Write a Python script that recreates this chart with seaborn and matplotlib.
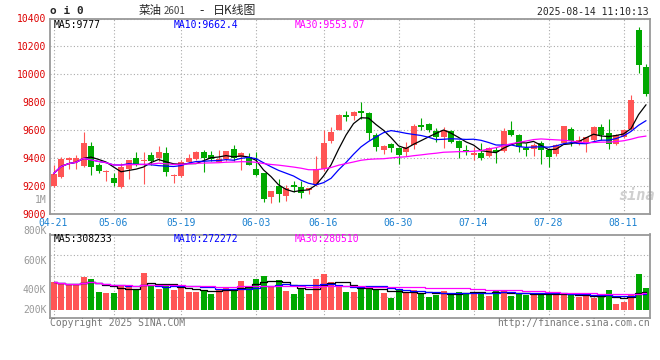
import numpy as np
import pandas as pd
import matplotlib
matplotlib.use('Agg')
import matplotlib.pyplot as plt
import seaborn as sns

# daily candles 04-21 .. 08-14 (80 trading days)
opens = [9195, 9262, 9383, 9369, 9340, 9488, 9350, 9300, 9252, 9188,
         9317, 9395, 9376, 9417, 9395, 9431, 9270, 9267, 9367, 9390,
         9445, 9417, 9371, 9393, 9464, 9405, 9409, 9321, 9288, 9119,
         9195, 9126, 9202, 9188, 9167, 9202, 9321, 9524, 9602, 9709,
         9697, 9738, 9724, 9567, 9455, 9502, 9471, 9440, 9495, 9638,
         9645, 9593, 9552, 9593, 9517, 9457, 9421, 9436, 9412, 9459,
         9448, 9602, 9567, 9471, 9462, 9505, 9459, 9426, 9507, 9609,
         9498, 9512, 9526, 9624, 9581, 9498, 9550, 9605, 10316, 10052]
highs = [9350, 9405, 9405, 9417, 9583, 9512, 9364, 9310, 9293, 9364,
         9386, 9445, 9445, 9438, 9488, 9474, 9281, 9383, 9426, 9450,
         9455, 9452, 9455, 9452, 9490, 9445, 9431, 9440, 9293, 9164,
         9250, 9202, 9231, 9231, 9186, 9414, 9597, 9619, 9717, 9736,
         9738, 9797, 9726, 9581, 9493, 9507, 9481, 9512, 9640, 9688,
         9650, 9617, 9624, 9602, 9531, 9490, 9474, 9507, 9478, 9476,
         9612, 9667, 9574, 9505, 9507, 9517, 9469, 9498, 9631, 9619,
         9559, 9552, 9626, 9645, 9681, 9571, 9609, 9852, 10338, 10076]
lows = [9188, 9255, 9317, 9317, 9336, 9276, 9293, 9232, 9198, 9181,
        9245, 9340, 9210, 9350, 9376, 9267, 9219, 9262, 9362, 9386,
        9298, 9376, 9369, 9376, 9376, 9312, 9345, 9269, 9086, 9076,
        9079, 9093, 9155, 9112, 9138, 9198, 9305, 9507, 9600, 9662,
        9674, 9678, 9531, 9448, 9424, 9440, 9355, 9412, 9460, 9602,
        9583, 9512, 9467, 9505, 9402, 9421, 9386, 9383, 9405, 9362,
        9443, 9557, 9440, 9412, 9414, 9355, 9333, 9412, 9502, 9486,
        9493, 9438, 9521, 9526, 9462, 9493, 9545, 9600, 10012, 9847]
closes = [9286, 9388, 9400, 9395, 9509, 9333, 9305, 9305, 9219, 9336,
          9381, 9350, 9383, 9379, 9445, 9298, 9279, 9367, 9402, 9445,
          9400, 9388, 9393, 9452, 9400, 9433, 9350, 9276, 9105, 9160,
          9140, 9186, 9190, 9150, 9181, 9317, 9509, 9588, 9709, 9693,
          9728, 9719, 9576, 9476, 9488, 9467, 9421, 9481, 9626, 9619,
          9602, 9548, 9602, 9512, 9469, 9438, 9436, 9402, 9471, 9438,
          9595, 9562, 9481, 9455, 9495, 9455, 9407, 9495, 9626, 9521,
          9528, 9547, 9624, 9564, 9498, 9567, 9602, 9816, 10064, 9855]
# volume in thousands of lots
volumes = [462, 440, 424, 413, 556, 523, 308, 292, 292, 424,
           424, 358, 622, 407, 358, 440, 341, 391, 308, 308,
           341, 275, 341, 391, 325, 490, 407, 523, 572, 391,
           506, 325, 275, 374, 275, 523, 605, 473, 424, 308,
           308, 358, 407, 358, 292, 209, 341, 292, 341, 275,
           226, 259, 325, 259, 308, 292, 308, 308, 242, 341,
           325, 242, 292, 259, 259, 292, 259, 275, 259, 259,
           226, 242, 209, 242, 341, 110, 143, 275, 605, 374]

tick_idx = [0, 8, 17, 27, 36, 46, 56, 66, 76]
tick_labels = ['04-21', '05-06', '05-19', '06-03', '06-16', '06-30', '07-14', '07-28', '08-11']
price_ticks = [9000, 9200, 9400, 9600, 9800, 10000, 10200, 10400]
price_ma_text = ['MA5:9777', 'MA10:9662.4', 'MA30:9553.07']
vol_ma_text = ['MA5:308233', 'MA10:272272', 'MA30:280510']
vol_axis_labels = ['800K', '600K', '400K', '200K']

sns.set_theme(style='white')
plt.rcParams['font.family'] = ['DejaVu Sans Mono', 'Noto Sans CJK SC']

UP = '#ff5555'
DOWN = '#00a800'
MA_COLORS = ['#000000', '#0000ff', '#ff00ff']
GRID = '#aaaaaa'
FRAME = '#999999'
CJK = ['Noto Sans CJK SC', 'DejaVu Sans']

df = pd.DataFrame({'open': opens, 'high': highs, 'low': lows,
                   'close': closes, 'vol': volumes})
df['idx'] = np.arange(len(df))
df['up'] = df['close'] >= df['open']
colors = np.where(df['up'], UP, DOWN)

W, H = 660, 360
fig = plt.figure(figsize=(W / 100, H / 100), dpi=100)


def box(x0, y0, x1, y1):
    return [x0 / W, 1 - y1 / H, (x1 - x0) / W, (y1 - y0) / H]


def ftext(x, y, s, **kw):
    fig.text(x / W, 1 - y / H, s, **kw)


ax_p = fig.add_axes(box(50, 18.5, 650, 213.5))
ax_v = fig.add_axes(box(50, 234.5, 650, 317.7))

# price candles
body_lo = df[['open', 'close']].min(axis=1)
body_h = (df['close'] - df['open']).abs().clip(lower=7)
ax_p.vlines(df['idx'], df['low'], df['high'], colors=colors, lw=0.8, zorder=2)
ax_p.bar(df['idx'], body_h, bottom=body_lo, width=0.8, color=colors, linewidth=0, zorder=3)

for n, c in zip([5, 10, 30], MA_COLORS):
    ma = df['close'].rolling(n, min_periods=1).mean()
    sns.lineplot(x=df['idx'], y=ma, ax=ax_p, color=c, lw=0.9, zorder=4)

ax_p.set_xlim(-0.47, 79.53)
ax_p.set_ylim(9000, 10400)
ax_p.set_yticks(price_ticks)
ax_p.set_yticklabels([str(t) for t in price_ticks])
ax_p.set_xticks(tick_idx)
ax_p.set_xticklabels(tick_labels)
ax_p.tick_params(axis='y', length=0, pad=3, labelsize=7, labelcolor='#dd0000')
ax_p.tick_params(axis='x', length=0, pad=3.5, labelsize=7, labelcolor='#1a80d0')
ax_p.grid(True, color=GRID, linestyle=(0, (1, 2)), lw=0.8)
ax_p.set_xlabel('')
ax_p.set_ylabel('')
ax_p.text(-0.006, 0.069, '1M', transform=ax_p.transAxes, ha='right', va='center',
          fontsize=7, color='#999999')
ax_p.text(0.977, 0.09, 'sina', transform=ax_p.transAxes, ha='center', va='center',
          fontsize=11, fontweight='bold', style='italic', color='#cfcfcf', zorder=1)

# volume bars
ax_v.bar(df['idx'], df['vol'], width=0.8, color=colors, linewidth=0, zorder=2)
for n, c in zip([5, 10, 30], MA_COLORS):
    ma = df['vol'].rolling(n, min_periods=1).mean()
    sns.lineplot(x=df['idx'], y=ma, ax=ax_v, color=c, lw=0.9, zorder=3,
                 drawstyle='steps-mid')

ax_v.set_xlim(-0.47, 79.53)
lo, hi = -120, 1250
ax_v.set_ylim(lo, hi)
ax_v.set_yticks([lo + f * (hi - lo) for f in (0.25, 0.5, 0.75)])
ax_v.set_xticks(tick_idx)
ax_v.tick_params(length=0, labelleft=False, labelbottom=False)
ax_v.grid(True, color=GRID, linestyle=(0, (1, 2)), lw=0.8)
ax_v.set_xlabel('')
ax_v.set_ylabel('')
for lab, fy in zip(vol_axis_labels, [1.04, 0.68, 0.33, 0.093]):
    ax_v.text(-0.006, fy, lab, transform=ax_v.transAxes, ha='right', va='center',
              fontsize=7, color='#999999')

for ax in (ax_p, ax_v):
    for s in ax.spines.values():
        s.set_color(FRAME)
        s.set_linewidth(1.3)

# header / legends / footer
ftext(50, 11.5, 'o i 0', fontsize=8, fontweight='bold', va='center', ha='left')
ftext(139, 10.5, '菜油', fontsize=8.3, va='center', ha='left', family=CJK)
ftext(163.5, 11, '2601', fontsize=7, va='center', ha='left', color='#444444', family=CJK)
ftext(201.5, 10.5, '-', fontsize=9, va='center', ha='center', family=CJK)
ftext(213, 10.5, '日K线图', fontsize=8.6, va='center', ha='left', family=CJK)
ftext(649, 12, '2025-08-14 11:10:13', fontsize=7, va='center', ha='right')
for s, x, c in zip(price_ma_text, [54, 174, 295], MA_COLORS):
    ftext(x, 24.5, s, fontsize=7, va='center', ha='left', color=c)
for s, x, c in zip(vol_ma_text, [54, 174, 295], MA_COLORS):
    ftext(x, 238.5, s, fontsize=7, va='center', ha='left', color=c)
ftext(50, 323.5, 'Copyright 2025 SINA.COM', fontsize=7, va='center', ha='left', color='#777777')
ftext(650, 323.5, 'http://finance.sina.com.cn', fontsize=7, va='center', ha='right', color='#777777')

fig.savefig('out.png', dpi=100, facecolor='white')
